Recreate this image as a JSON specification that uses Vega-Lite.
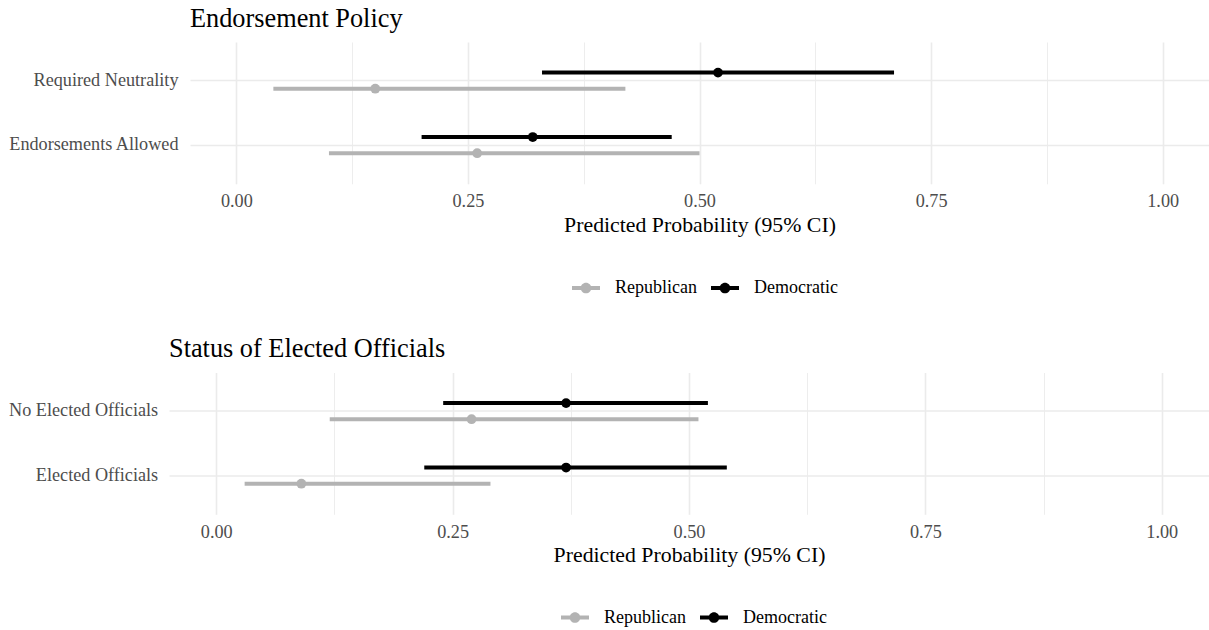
{
  "$schema": "https://vega.github.io/schema/vega-lite/v6.json",
  "background": "white",
  "padding": {"left": 7, "top": 5, "right": 0, "bottom": 0},
  "config": {
    "font": "Liberation Serif",
    "view": {"stroke": null},
    "title": {"fontSize": 26.3, "fontWeight": "normal", "anchor": "start", "frame": "group", "color": "black", "offset": 10},
    "axis": {
      "domain": false,
      "ticks": false,
      "labelFont": "Liberation Serif",
      "labelFontSize": 18.2,
      "labelColor": "#4D4D4D",
      "gridColor": "#EBEBEB",
      "titleFont": "Liberation Serif",
      "titleFontSize": 21.8,
      "titleFontWeight": "normal",
      "titleColor": "black"
    },
    "legend": {
      "orient": "none",
      "direction": "horizontal",
      "title": null,
      "padding": 0,
      "labelFont": "Liberation Serif",
      "labelFontSize": 18,
      "labelColor": "black",
      "symbolType": "M-1,-0.15H1V0.15H-1Z M0.38,0A0.38,0.38 0 1,1 -0.38,0A0.38,0.38 0 1,1 0.38,0Z",
      "symbolSize": 784,
      "symbolStrokeWidth": 0,
      "labelOffset": 15,
      "columnPadding": 14
    }
  },
  "datasets": {
    "endorsement": [
      {"condition": "Required Neutrality", "party": "Democratic", "estimate": 0.52, "lower": 0.33, "upper": 0.71},
      {"condition": "Required Neutrality", "party": "Republican", "estimate": 0.15, "lower": 0.04, "upper": 0.42},
      {"condition": "Endorsements Allowed", "party": "Democratic", "estimate": 0.32, "lower": 0.2, "upper": 0.47},
      {"condition": "Endorsements Allowed", "party": "Republican", "estimate": 0.26, "lower": 0.1, "upper": 0.5}
    ],
    "officials": [
      {"condition": "No Elected Officials", "party": "Democratic", "estimate": 0.37, "lower": 0.24, "upper": 0.52},
      {"condition": "No Elected Officials", "party": "Republican", "estimate": 0.27, "lower": 0.12, "upper": 0.51},
      {"condition": "Elected Officials", "party": "Democratic", "estimate": 0.37, "lower": 0.22, "upper": 0.54},
      {"condition": "Elected Officials", "party": "Republican", "estimate": 0.09, "lower": 0.03, "upper": 0.29}
    ]
  },
  "vconcat": [
    {
      "title": {"text": "Endorsement Policy"},
      "width": 1019,
      "height": 141.8,
      "data": {"name": "endorsement"},
      "encoding": {
        "y": {
          "field": "condition", "type": "nominal", "sort": ["Required Neutrality", "Endorsements Allowed"],
          "scale": {"paddingInner": 0.5, "paddingOuter": 0.35},
          "axis": {"title": null, "grid": true, "bandPosition": 0.5, "gridWidth": 1.6, "labelPadding": 12}
        },
        "yOffset": {"field": "party", "type": "nominal", "scale": {"domain": ["Democratic", "Republican"], "paddingInner": 0, "paddingOuter": 0}},
        "color": {
          "field": "party", "type": "nominal",
          "scale": {"domain": ["Republican", "Democratic"], "range": ["#B3B3B3", "#000000"]},
          "legend": {"legendX": 382, "legendY": 232}
        }
      },
      "layer": [
        {
          "mark": {"type": "rule", "strokeWidth": 4},
          "encoding": {
            "x": {
              "field": "lower", "type": "quantitative",
              "scale": {"domain": [-0.05, 1.05], "nice": false, "zero": false},
              "axis": {
                "title": "Predicted Probability (95% CI)",
                "values": [0, 0.125, 0.25, 0.375, 0.5, 0.625, 0.75, 0.875, 1],
                "labelExpr": "datum.value % 0.25 === 0 ? format(datum.value, '.2f') : ''",
                "gridWidth": {"condition": {"test": "datum.value % 0.25 === 0", "value": 1.6}, "value": 0.9},
                "labelPadding": 9,
                "titlePadding": 4
              }
            },
            "x2": {"field": "upper"}
          }
        },
        {
          "mark": {"type": "point", "filled": true, "size": 95, "opacity": 1},
          "encoding": {
            "x": {"field": "estimate", "type": "quantitative"}
          }
        }
      ]
    },
    {
      "title": {"text": "Status of Elected Officials", "dx": -21},
      "width": 1019,
      "height": 141.8,
      "data": {"name": "officials"},
      "encoding": {
        "y": {
          "field": "condition", "type": "nominal", "sort": ["No Elected Officials", "Elected Officials"],
          "scale": {"paddingInner": 0.5, "paddingOuter": 0.35},
          "axis": {"title": null, "grid": true, "bandPosition": 0.5, "gridWidth": 1.6, "labelPadding": 32.3}
        },
        "yOffset": {"field": "party", "type": "nominal", "scale": {"domain": ["Democratic", "Republican"], "paddingInner": 0, "paddingOuter": 0}},
        "color": {
          "field": "party", "type": "nominal",
          "scale": {"domain": ["Republican", "Democratic"], "range": ["#B3B3B3", "#000000"]},
          "legend": {"legendX": 371, "legendY": 231}
        }
      },
      "layer": [
        {
          "mark": {"type": "rule", "strokeWidth": 4},
          "encoding": {
            "x": {
              "field": "lower", "type": "quantitative",
              "scale": {"domain": [-0.05, 1.05], "nice": false, "zero": false, "range": [-21, 1019]},
              "axis": {
                "title": "Predicted Probability (95% CI)",
                "titleX": 499,
                "titleAlign": "center",
                "values": [0, 0.125, 0.25, 0.375, 0.5, 0.625, 0.75, 0.875, 1],
                "labelExpr": "datum.value % 0.25 === 0 ? format(datum.value, '.2f') : ''",
                "gridWidth": {"condition": {"test": "datum.value % 0.25 === 0", "value": 1.6}, "value": 0.9},
                "labelPadding": 9,
                "titlePadding": 4
              }
            },
            "x2": {"field": "upper"}
          }
        },
        {
          "mark": {"type": "point", "filled": true, "size": 95, "opacity": 1},
          "encoding": {
            "x": {"field": "estimate", "type": "quantitative"}
          }
        }
      ]
    }
  ],
  "spacing": 38.5,
  "resolve": {
    "scale": {"x": "independent", "y": "independent", "yOffset": "independent", "color": "independent"},
    "legend": {"color": "independent"}
  }
}
